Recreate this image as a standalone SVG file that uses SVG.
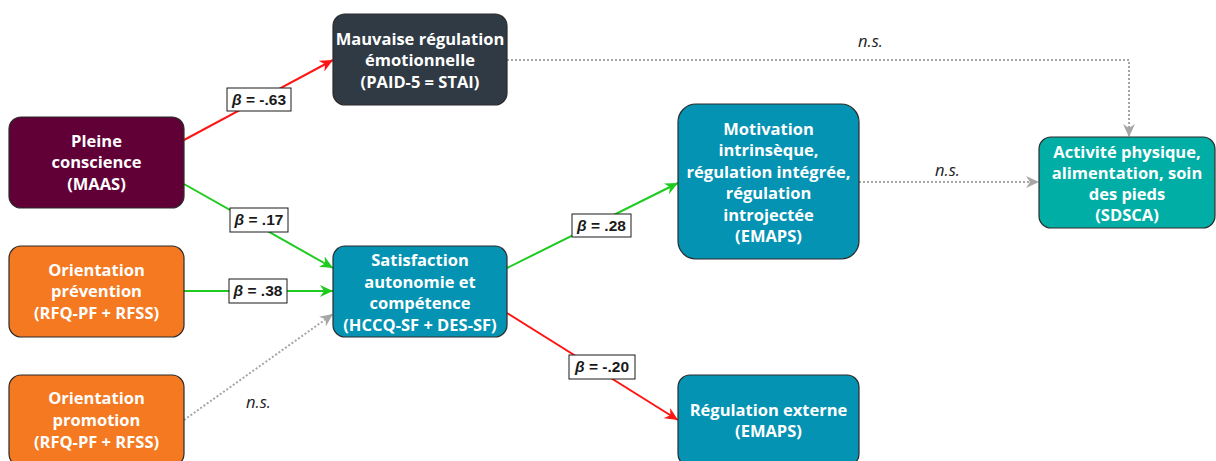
<svg xmlns="http://www.w3.org/2000/svg" width="1216" height="461" viewBox="0 0 1216 461">
<defs>
<style>
.node rect{stroke:#2b2b2b;stroke-width:1.2}
.nt{font-family:"Open Sans","Liberation Sans",sans-serif;font-weight:700;font-size:16.5px;fill:#fff;text-anchor:middle}
.c{fill:none;stroke-width:2}
.red{stroke:#ff1414}
.green{stroke:#1ecb1e}
.gray{stroke:#a6a6a6;stroke-dasharray:2 2}
.lb rect{fill:#fff;stroke:#1a1a1a;stroke-width:1}
.lb text{font-family:"Liberation Sans",Arial,sans-serif;font-weight:700;font-size:15.5px;fill:#1a1a1a;text-anchor:middle}
.ns{font-family:"Open Sans","Liberation Sans",sans-serif;font-style:italic;font-size:16.5px;fill:#222}
</style>
<marker id="mr" markerUnits="userSpaceOnUse" markerWidth="14" markerHeight="12" refX="13" refY="6" orient="auto"><path d="M0,0 L13,6 L0,12 L4,6 z" fill="#ff1414"/></marker>
<marker id="mg" markerUnits="userSpaceOnUse" markerWidth="14" markerHeight="12" refX="13" refY="6" orient="auto"><path d="M0,0 L13,6 L0,12 L4,6 z" fill="#1ecb1e"/></marker>
<marker id="my" markerUnits="userSpaceOnUse" markerWidth="14" markerHeight="12" refX="13" refY="6" orient="auto"><path d="M0,0 L13,6 L0,12 L4,6 z" fill="#a6a6a6"/></marker>
</defs>
<rect width="1216" height="461" fill="#fff"/>
<g id="connectors">
<path class="c red" d="M184,140 L333,60" marker-end="url(#mr)"/>
<path class="c green" d="M184,184 L333,268" marker-end="url(#mg)"/>
<path class="c green" d="M184,291 L333,291" marker-end="url(#mg)"/>
<path class="c gray" d="M184,420 L333,314" marker-end="url(#my)"/>
<path class="c green" d="M507,268 L678,183" marker-end="url(#mg)"/>
<path class="c red" d="M507,313 L678,420" marker-end="url(#mr)"/>
<path class="c gray" d="M507,60 L1129,60 L1129,137" marker-end="url(#my)"/>
<path class="c gray" d="M859,182 L1039,182" marker-end="url(#my)"/>
<g class="lb"><rect x="227" y="88" width="64" height="23"/><text x="259" y="105"><tspan font-style="italic">β</tspan> = -.63</text></g>
<g class="lb"><rect x="230" y="208" width="58" height="24"/><text x="259" y="225"><tspan font-style="italic">β</tspan> = .17</text></g>
<g class="lb"><rect x="229" y="279" width="58" height="24"/><text x="258" y="296"><tspan font-style="italic">β</tspan> = .38</text></g>
<g class="lb"><rect x="572" y="214" width="59" height="23"/><text x="601.5" y="231"><tspan font-style="italic">β</tspan> = .28</text></g>
<g class="lb"><rect x="569" y="355" width="66" height="24"/><text x="602" y="372"><tspan font-style="italic">β</tspan> = -.20</text></g>
<text class="ns" x="858" y="47">n.s.</text>
<text class="ns" x="935" y="176">n.s.</text>
<text class="ns" x="246" y="408">n.s.</text>
</g>
<g id="n-mauvaise" class="node"><rect x="333" y="14" width="174" height="91" rx="12" fill="#2f3a44"/>
<text class="nt"><tspan x="420" y="45">Mauvaise régulation</tspan><tspan x="420" y="66">émotionnelle</tspan><tspan x="420" y="88">(PAID-5 = STAI)</tspan></text></g>
<g id="n-pleine" class="node"><rect x="9" y="117" width="175" height="91" rx="12" fill="#600036"/>
<text class="nt"><tspan x="96.5" y="147">Pleine</tspan><tspan x="96.5" y="168">conscience</tspan><tspan x="96.5" y="190">(MAAS)</tspan></text></g>
<g id="n-prevention" class="node"><rect x="9" y="246" width="175" height="91" rx="12" fill="#f47920"/>
<text class="nt"><tspan x="96.5" y="276">Orientation</tspan><tspan x="96.5" y="297">prévention</tspan><tspan x="96.5" y="319">(RFQ-PF + RFSS)</tspan></text></g>
<g id="n-promotion" class="node"><rect x="9" y="375" width="175" height="91" rx="12" fill="#f47920"/>
<text class="nt"><tspan x="96.5" y="404">Orientation</tspan><tspan x="96.5" y="426">promotion</tspan><tspan x="96.5" y="448">(RFQ-PF + RFSS)</tspan></text></g>
<g id="n-satisfaction" class="node"><rect x="333" y="246" width="174" height="91" rx="12" fill="#0493b2"/>
<text class="nt"><tspan x="420" y="266">Satisfaction</tspan><tspan x="420" y="288">autonomie et</tspan><tspan x="420" y="309">compétence</tspan><tspan x="420" y="331">(HCCQ-SF + DES-SF)</tspan></text></g>
<g id="n-motivation" class="node"><rect x="678" y="104" width="181" height="155" rx="18" fill="#0493b2"/>
<text class="nt"><tspan x="768.5" y="135">Motivation</tspan><tspan x="768.5" y="156">intrinsèque,</tspan><tspan x="768.5" y="178">régulation intégrée,</tspan><tspan x="768.5" y="199">régulation</tspan><tspan x="768.5" y="221">introjectée</tspan><tspan x="768.5" y="242">(EMAPS)</tspan></text></g>
<g id="n-externe" class="node"><rect x="678" y="375" width="181" height="91" rx="12" fill="#0493b2"/>
<text class="nt"><tspan x="768.5" y="416">Régulation externe</tspan><tspan x="768.5" y="437">(EMAPS)</tspan></text></g>
<g id="n-activite" class="node"><rect x="1039" y="137" width="176" height="91" rx="12" fill="#00aea6"/>
<text class="nt"><tspan x="1127" y="158">Activité physique,</tspan><tspan x="1127" y="179">alimentation, soin</tspan><tspan x="1127" y="200">des pieds</tspan><tspan x="1127" y="221">(SDSCA)</tspan></text></g>
</svg>
